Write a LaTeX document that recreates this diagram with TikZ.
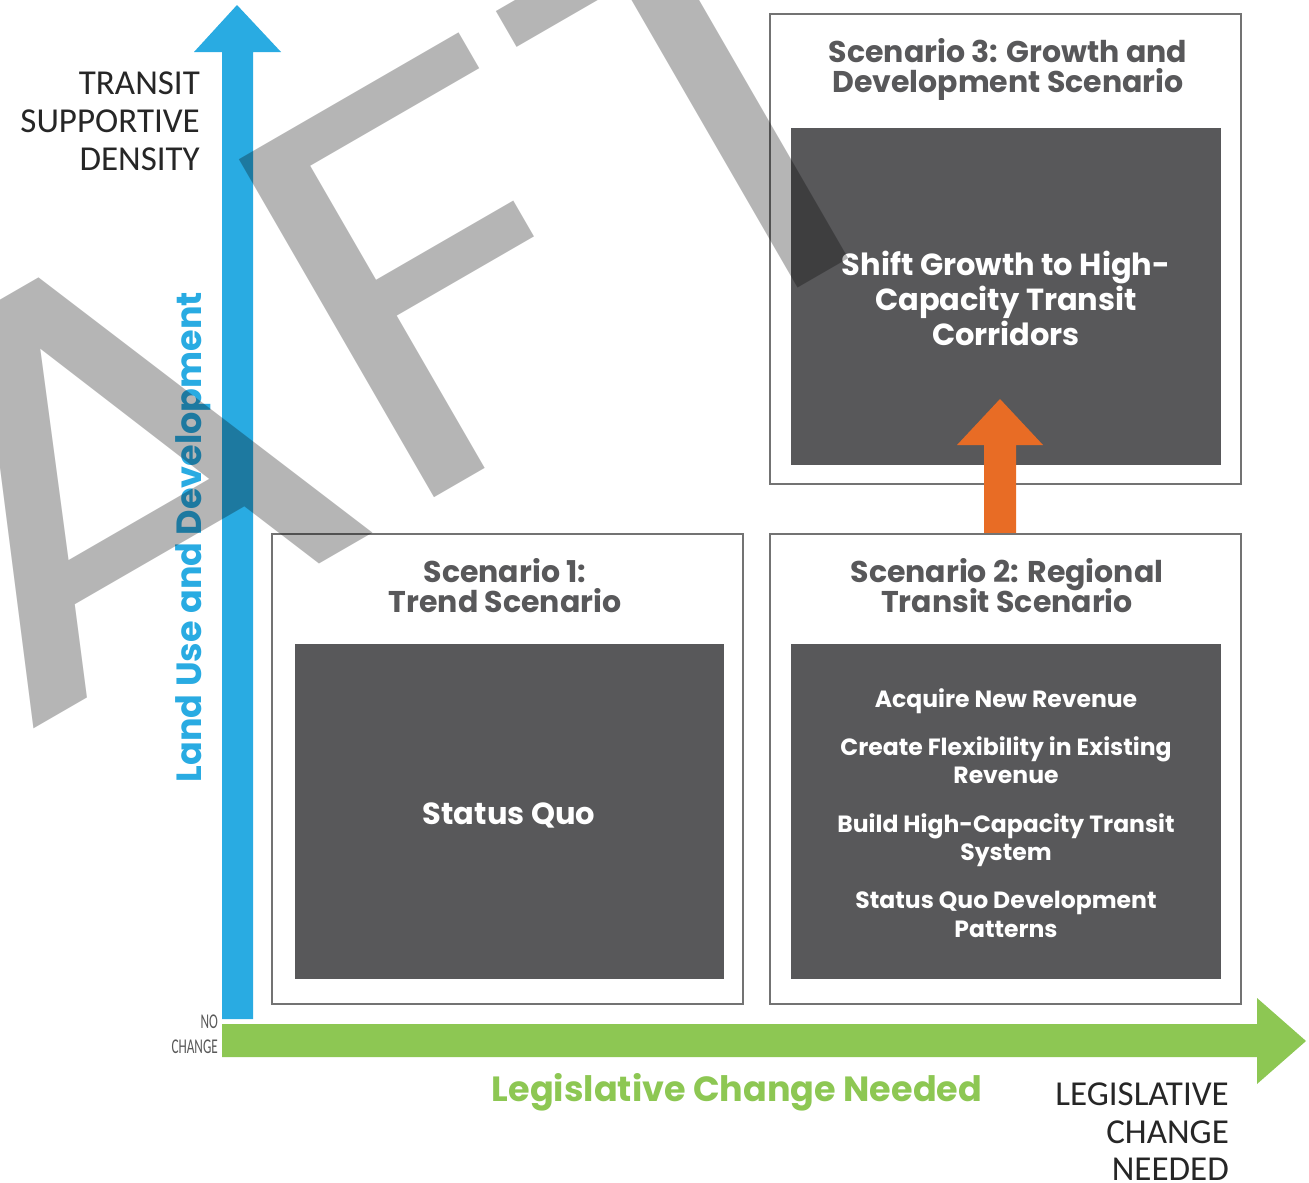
\documentclass[tikz,border=0pt]{standalone}
\usepackage{fontspec}
\setmainfont{Poppins}
\newfontfamily\capsfont{Carlito}
\definecolor{tblue}{RGB}{41,171,226}
\definecolor{lgreen}{RGB}{141,199,83}
\definecolor{torange}{RGB}{232,108,37}
\definecolor{boxdark}{RGB}{88,88,90}
\definecolor{titlegray}{RGB}{88,88,90}
\definecolor{framegray}{RGB}{115,115,115}
\begin{document}
\begin{tikzpicture}[x=1pt,y=-1pt,
  outerbox/.style={draw=framegray, line width=2.5pt, fill=white, inner sep=0pt, outer sep=0pt},
  innerbox/.style={fill=boxdark, draw=none, inner sep=0pt, outer sep=0pt},
  titletxt/.style={anchor=base, inner sep=0pt, text=titlegray, font=\bfseries\fontsize{30}{30}\selectfont},
  bigwhite/.style={anchor=base, inner sep=0pt, text=white, font=\bfseries\fontsize{30.5}{30}\selectfont},
  itemtxt/.style={anchor=base, inner sep=0pt, text=white, font=\bfseries\fontsize{23.5}{24}\selectfont},
  capsleft/.style={anchor=base east, inner sep=0pt, text=black!85, font=\capsfont\fontsize{35}{36}\selectfont},
  smallcaps/.style={anchor=base east, inner sep=0pt, text=black!65, font=\capsfont\fontsize{21}{22}\selectfont},
  axistxt/.style={anchor=base, inner sep=0pt, font=\bfseries\fontsize{35}{34}\selectfont}]
\useasboundingbox (0,0) rectangle (1309,1183);
\fill[white] (0,0) rectangle (1309,1183);

% boxes
\node[outerbox, minimum width=471pt, minimum height=470pt] (s3) at (1005.5,249) {};
\node[innerbox, minimum width=430pt, minimum height=337pt] (s3in) at (1006,296.5) {};
\node[outerbox, minimum width=471pt, minimum height=470pt] (s1) at (507.5,769) {};
\node[innerbox, minimum width=429pt, minimum height=335pt] (s1in) at (509.5,811.5) {};
\node[outerbox, minimum width=471pt, minimum height=470pt] (s2) at (1005.5,769) {};
\node[innerbox, minimum width=430pt, minimum height=335pt] (s2in) at (1006,811.5) {};

% vertical axis arrow
\coordinate (vbase) at (237.5,1019);
\coordinate (vtip) at (237,5);
\fill[tblue] (vbase) ++(-15.5,0) -- (222,52) -- (194,52) -- (vtip) -- (281,52) -- (253,52) -- ++(0,967) -- cycle;

% horizontal axis arrow
\coordinate (hbase) at (222,1040.5);
\coordinate (htip) at (1306,1041);
\fill[lgreen] (hbase) ++(0,-16.5) -- (1257,1024) -- (1257,998) -- (htip) -- (1257,1084) -- (1257,1057) -- (222,1057) -- cycle;

% orange arrow from scenario 2 to scenario 3
\coordinate (otip) at (1000,399);
\fill[torange] (s2.north -| 984,0) -- (984,445) -- (957,445) -- (otip) -- (1043,445) -- (1016,445) -- (s2.north -| 1016,0) -- cycle;
\draw[framegray, line width=2.5pt] (984,534) -- (1016,534);

% titles
\node[titletxt] (t3a) at (1008,62) {Scenario 3: Growth and};
\node[titletxt] (t3b) at (1008,92) {Development Scenario};
\node[titletxt] (t1a) at (505,582) {Scenario 1:};
\node[titletxt] (t1b) at (505,612) {Trend Scenario};
\node[titletxt] (t2a) at (1007,582) {Scenario 2: Regional};
\node[titletxt] (t2b) at (1007,612) {Transit Scenario};

% box contents
\node[bigwhite] (c3a) at (1006,275) {Shift Growth to High-};
\node[bigwhite] (c3b) at (1006,310) {Capacity Transit};
\node[bigwhite] (c3c) at (1006,345) {Corridors};
\node[bigwhite] (c1) at (509,824) {Status Quo};
\node[itemtxt] (i1) at (1006,707) {Acquire New Revenue};
\node[itemtxt] (i2a) at (1006,755) {Create Flexibility in Existing};
\node[itemtxt] (i2b) at (1006,783) {Revenue};
\node[itemtxt] (i3a) at (1006,832) {Build High-Capacity Transit};
\node[itemtxt] (i3b) at (1006,860) {System};
\node[itemtxt] (i4a) at (1006,908) {Status Quo Development};
\node[itemtxt] (i4b) at (1006,937) {Patterns};

% axis labels
\node[capsleft] (ya) at (200,94) {TRANSIT};
\node[capsleft] (yb) at (200,132) {SUPPORTIVE};
\node[capsleft] (yc) at (200,170) {DENSITY};
\node[capsleft] (xa) at (1229,1105) {LEGISLATIVE};
\node[capsleft] (xb) at (1229,1143) {CHANGE};
\node[capsleft] (xc) at (1229,1180) {NEEDED};
\node[smallcaps] (n1) at (218,1028) {\scalebox{0.63}[1]{NO}};
\node[smallcaps] (n2) at (218,1053) {\scalebox{0.63}[1]{CHANGE}};
\node[axistxt, text=tblue, rotate=90] (ylab) at (201,537) {Land Use and Development};
\node[axistxt, text=lgreen] (xlab) at (737,1101) {Legislative Change Needed};

% watermark
\begin{scope}
\clip (0,0) rectangle (1309,1183);
\begin{scope}[shift={(-718,1163)}, rotate=30, xscale=1.15]
\node[anchor=base west, inner sep=0pt, transform shape, text=black, text opacity=0.29,
  font=\fontsize{560}{560}\selectfont] (draft) at (0,0) {DRAFT};
\end{scope}
\end{scope}
\end{tikzpicture}
\end{document}
